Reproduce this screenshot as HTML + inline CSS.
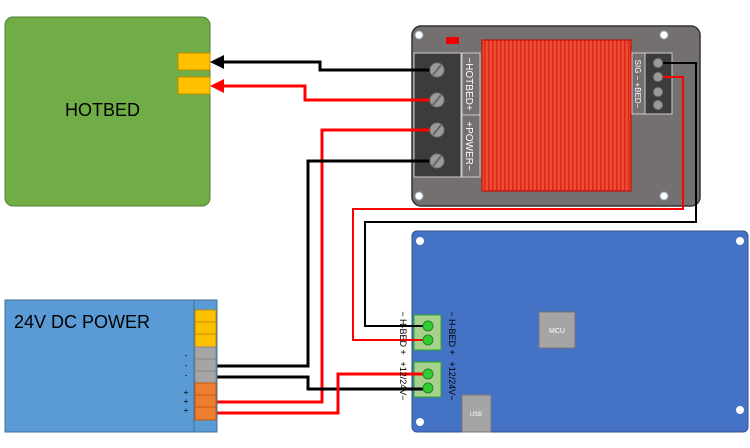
<!DOCTYPE html><html><head><style>body{margin:0;background:#fff}svg{display:block}text{font-family:"Liberation Sans",sans-serif}</style></head><body>
<svg width="750" height="448" viewBox="0 0 750 448">
<defs><pattern id="st" width="4" height="10" patternUnits="userSpaceOnUse"><rect width="4" height="10" fill="#f04a30"/><rect width="1.5" height="10" fill="#d42a20"/></pattern></defs>
<rect x="5" y="17" width="205" height="189" rx="8" fill="#70ad47" stroke="#507e32"/>
<text x="65" y="116" font-size="18" fill="#000">HOTBED</text>
<rect x="178" y="53" width="32" height="17" fill="#ffc000" stroke="#bf9000"/>
<rect x="178" y="77" width="32" height="17" fill="#ffc000" stroke="#bf9000"/>
<rect x="412" y="26" width="288" height="180" rx="9" fill="#757070" stroke="#333" stroke-width="1.5"/>
<circle cx="419" cy="35" r="4" fill="#fff" stroke="#9ab"/><circle cx="664" cy="35" r="4" fill="#fff" stroke="#9ab"/><circle cx="419" cy="196" r="4" fill="#fff" stroke="#9ab"/><circle cx="664" cy="196" r="4" fill="#fff" stroke="#9ab"/>
<rect x="446" y="37" width="13" height="7" fill="#e00"/>
<rect x="482" y="40" width="149" height="151" fill="url(#st)" stroke="#c00"/>
<rect x="414" y="53" width="47" height="124" fill="#3c3c3c" stroke="#ccc"/>
<rect x="462" y="53" width="18" height="62" fill="#757070" stroke="#ccc"/><rect x="462" y="115" width="18" height="62" fill="#757070" stroke="#ccc"/>
<text transform="translate(466,84) rotate(90)" font-size="10" fill="#fff" text-anchor="middle">−HOTBED+</text>
<text transform="translate(466,146) rotate(90)" font-size="10" fill="#fff" text-anchor="middle">+POWER−</text>
<rect x="632" y="53" width="13" height="61" fill="#757070" stroke="#ccc"/><rect x="645" y="53" width="27" height="61" fill="#3c3c3c" stroke="#ccc"/>
<text transform="translate(635,84) rotate(90)" font-size="8" fill="#fff" text-anchor="middle">SIG − +BED−</text>
<rect x="412" y="231" width="336" height="201" rx="5" fill="#4472c4" stroke="#2f528f"/>
<circle cx="420" cy="241" r="4" fill="#fff"/><circle cx="740" cy="241" r="4" fill="#fff"/><circle cx="420" cy="422" r="4" fill="#fff"/><circle cx="740" cy="410" r="4" fill="#fff"/>
<rect x="414" y="315" width="27" height="35" fill="#a9d18e" stroke="#2a2"/><rect x="414" y="362" width="27" height="35" fill="#a9d18e" stroke="#2a2"/>
<g fill="none" stroke-width="3">
<polyline points="437,70 320,70 320,62 222,62" stroke="#000"/>
<polyline points="437,100 305,100 305,86 222,86" stroke="#f00"/>
<polyline points="437,130 322,130 322,402 217,402" stroke="#f00"/>
<polyline points="437,161 308,161 308,366 217,366" stroke="#000"/>
<polyline points="217,377 308,377 308,389 428,389" stroke="#000"/>
<polyline points="428,374 338,374 338,413 217,413" stroke="#f00"/>
</g>
<g fill="none" stroke-width="2">
<polyline points="658,63 696,63 696,222 365,222 365,326 428,326" stroke="#000"/>
<polyline points="658,77 683,77 683,209 353,209 353,340 428,340" stroke="#f00"/>
</g>
<polygon points="210,62 224,55 224,69" fill="#000"/>
<polygon points="210,86 224,79 224,93" fill="#f00"/>
<g fill="#9a9a9a" stroke="#777"><circle cx="437" cy="70" r="7"/><circle cx="437" cy="100" r="7"/><circle cx="437" cy="130" r="7"/><circle cx="437" cy="161" r="7"/></g>
<g stroke="#666" stroke-width="2"><line x1="433" y1="75" x2="441" y2="65"/><line x1="433" y1="105" x2="441" y2="95"/><line x1="433" y1="135" x2="441" y2="125"/><line x1="433" y1="166" x2="441" y2="156"/></g>
<g fill="#9a9a9a" stroke="#777"><circle cx="658" cy="63" r="4.5"/><circle cx="658" cy="77" r="4.5"/><circle cx="658" cy="92" r="4.5"/><circle cx="658" cy="105" r="4.5"/></g>
<g fill="#3c3" stroke="#282"><circle cx="428" cy="326" r="5"/><circle cx="428" cy="340" r="5"/><circle cx="428" cy="374" r="5"/><circle cx="428" cy="388" r="5"/></g>
<text transform="translate(449,333) rotate(90)" font-size="9" fill="#000" text-anchor="middle">−  H-BED  +</text>
<text transform="translate(449,381) rotate(90)" font-size="9" fill="#000" text-anchor="middle">+12/24V−</text>
<text transform="translate(400,333) rotate(90)" font-size="9" fill="#000" text-anchor="middle">−  H-BED  +</text>
<text transform="translate(400,381) rotate(90)" font-size="9" fill="#000" text-anchor="middle">+12/24V−</text>
<rect x="539" y="312" width="36" height="36" fill="#a5a5a5" stroke="#777"/><text x="557" y="333" font-size="7" fill="#fff" text-anchor="middle">MCU</text>
<rect x="462" y="395" width="29" height="37" fill="#a5a5a5" stroke="#777"/><text x="476" y="416" font-size="6" fill="#fff" text-anchor="middle">USB</text>
<rect x="5" y="300" width="212" height="132" fill="#5b9bd5" stroke="#41719c"/>
<rect x="194" y="300" width="23" height="132" fill="#5b9bd5" stroke="#41719c"/>
<text x="14" y="328" font-size="18" fill="#000">24V DC POWER</text>
<g stroke="#bf9000" fill="#ffc000"><rect x="195" y="310" width="21" height="12"/><rect x="195" y="322" width="21" height="12"/><rect x="195" y="334" width="21" height="13"/></g>
<g stroke="#888" fill="#a5a5a5"><rect x="195" y="347" width="21" height="12"/><rect x="195" y="359" width="21" height="12"/><rect x="195" y="371" width="21" height="12"/></g>
<g stroke="#c55a11" fill="#ed7d31"><rect x="195" y="383" width="21" height="12"/><rect x="195" y="395" width="21" height="12"/><rect x="195" y="407" width="21" height="13"/></g>
<g font-size="8" fill="#000" text-anchor="middle"><text x="186" y="358">-</text><text x="186" y="368">-</text><text x="186" y="378">-</text><text x="186" y="395">+</text><text x="186" y="404">+</text><text x="186" y="413">+</text></g>
</svg></body></html>
